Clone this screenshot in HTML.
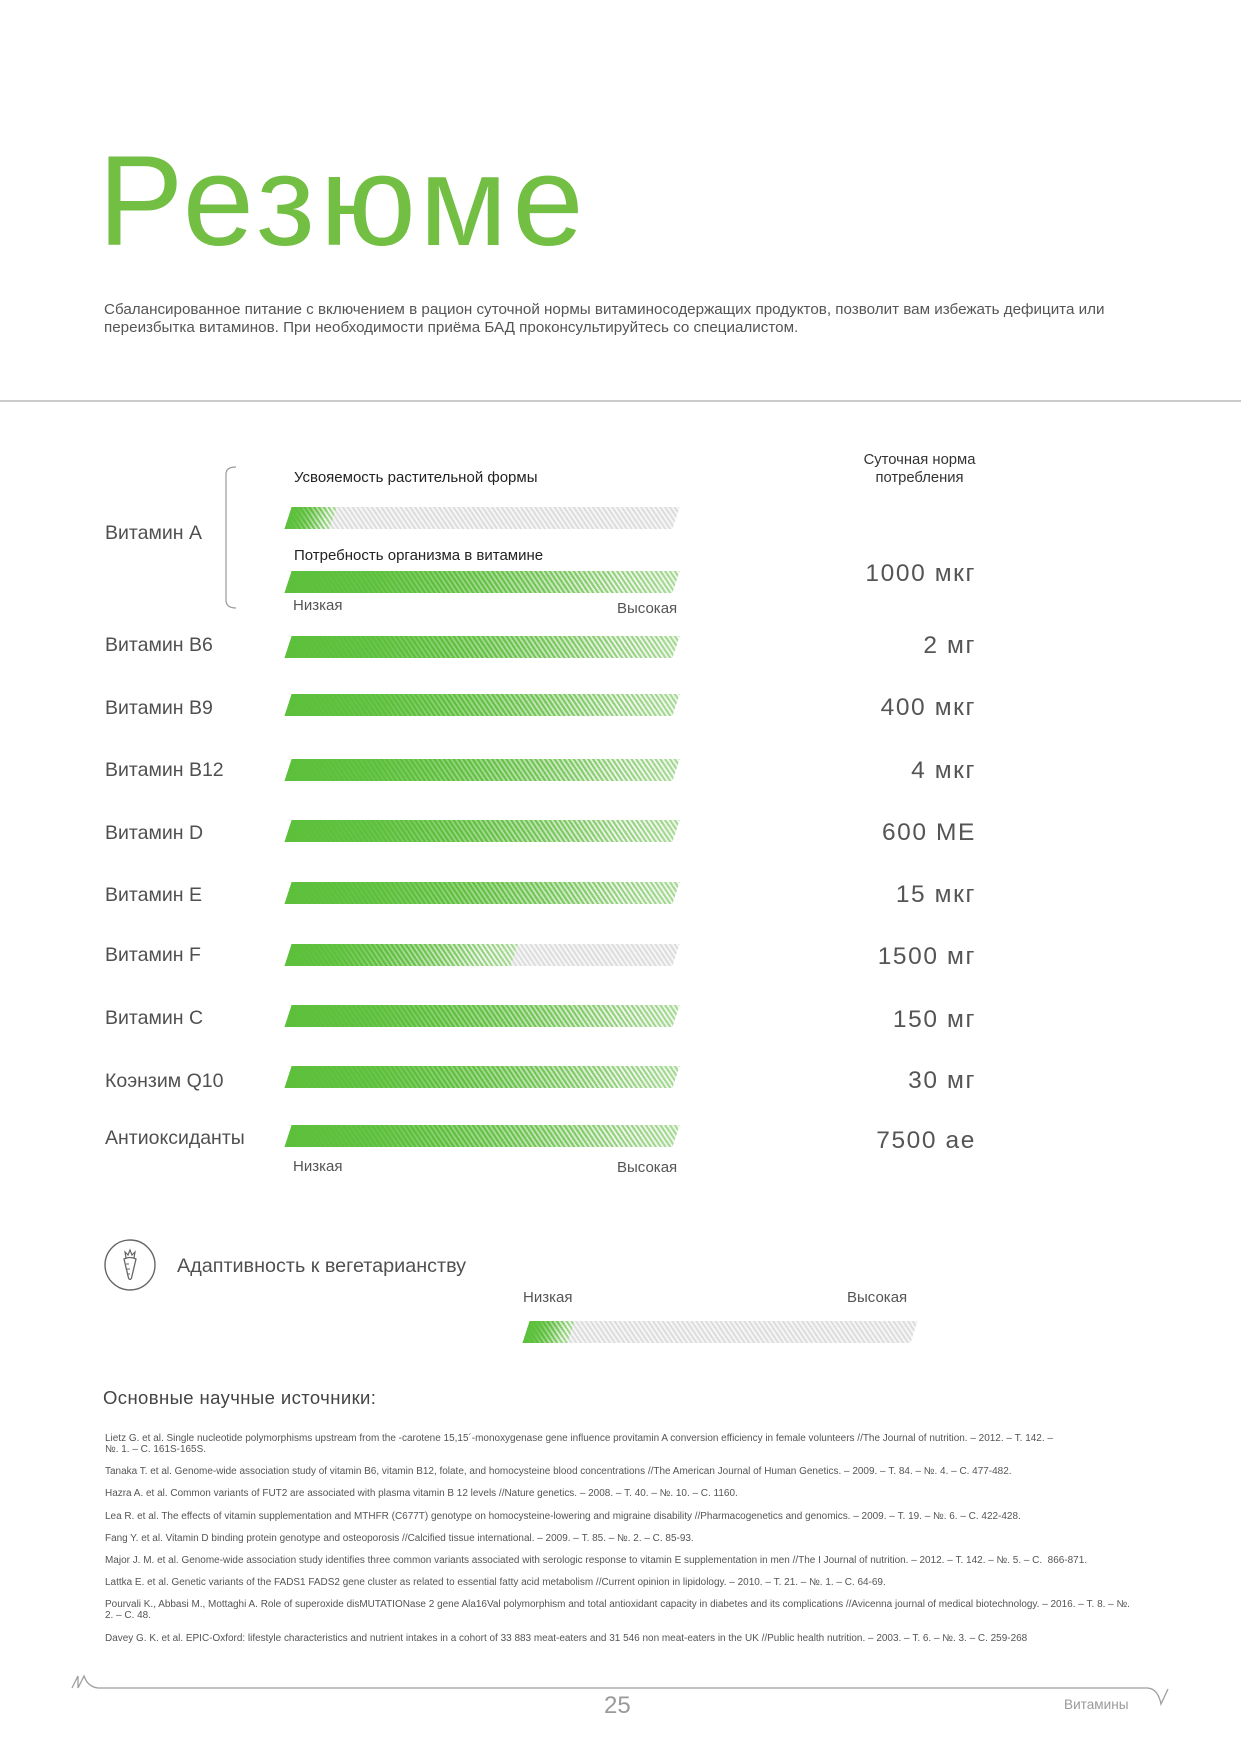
<!DOCTYPE html>
<html><head><meta charset="utf-8">
<style>
html,body{margin:0;padding:0;background:#fff}
body{width:1241px;height:1754px;position:relative;overflow:hidden;font-family:"Liberation Sans","Noto Sans CJK SC",sans-serif;color:#4d4d4d}
.a{position:absolute;white-space:nowrap}
.title{left:98px;top:138px;font-size:128px;line-height:128px;color:#72bf44;letter-spacing:5px}
.para{left:104px;top:301px;font-size:15.2px;line-height:18px;color:#555}
.hr{position:absolute;left:0;top:400px;width:1241px;height:2px;background:#cacaca}
.lab{left:105px;font-size:19.5px;line-height:24px;color:#505050}
.val{right:265px;font-size:24.5px;line-height:28px;color:#555;letter-spacing:1.6px;text-align:right}
.sm{font-size:15px;line-height:18px;color:#555}
.bar{position:absolute;left:288px;width:388px;height:22px;transform:skewX(-18deg);background:repeating-linear-gradient(45deg,#dcdcdc 0 1.6px,#f5f5f5 1.6px 3.4px);overflow:hidden}
.fill{position:absolute;left:0;top:0;bottom:0;background:linear-gradient(to right,#5cc03b 0%,rgba(92,192,59,.9) 22%,rgba(92,192,59,0) 85%),linear-gradient(to right,rgba(255,255,255,0) 40%,rgba(255,255,255,.45) 100%),repeating-linear-gradient(45deg,#62bb44 0 1.8px,#e4f2dc 1.8px 3.4px)}
.ref{left:105px;font-size:9.98px;line-height:11px;color:#555}
</style></head><body>

<div class="a title">Резюме</div>

<div class="a para">Сбалансированное питание с включением в рацион суточной нормы витаминосодержащих продуктов, позволит вам избежать дефицита или<br>переизбытка витаминов. При необходимости приёма БАД проконсультируйтесь со специалистом.</div>

<div class="hr"></div>

<!-- bracket -->
<svg class="a" style="left:220px;top:462px" width="24" height="152" viewBox="0 0 24 152">
<path d="M16 5 Q6 5 6 12 L6 138 Q6 146 16 146" fill="none" stroke="#9a9a9a" stroke-width="1.2"/>
</svg>

<div class="a" style="left:842px;top:451px;width:155px;text-align:center;font-size:14.8px;line-height:18px;color:#333">Суточная норма<br>потребления</div>

<div class="a sm" style="left:294px;top:469px;color:#222">Усвояемость растительной формы</div>
<div class="a sm" style="left:294px;top:547px;color:#222">Потребность организма в витамине</div>

<div class="bar" style="top:507px"><div class="fill" style="width:45px"></div></div>
<div class="bar" style="top:571px"><div class="fill" style="width:100%"></div></div>
<div class="a sm" style="left:293px;top:597px">Низкая</div>
<div class="a sm" style="left:617px;top:600px">Высокая</div>

<div class="a lab" style="top:521px">Витамин А</div>
<div class="a lab" style="top:633px">Витамин В6</div>
<div class="a lab" style="top:696px">Витамин В9</div>
<div class="a lab" style="top:758px">Витамин В12</div>
<div class="a lab" style="top:821px">Витамин D</div>
<div class="a lab" style="top:883px">Витамин Е</div>
<div class="a lab" style="top:943px">Витамин F</div>
<div class="a lab" style="top:1006px">Витамин С</div>
<div class="a lab" style="top:1069px">Коэнзим Q10</div>
<div class="a lab" style="top:1126px">Антиоксиданты</div>

<div class="bar" style="top:636px"><div class="fill" style="width:100%"></div></div>
<div class="bar" style="top:694px"><div class="fill" style="width:100%"></div></div>
<div class="bar" style="top:759px"><div class="fill" style="width:100%"></div></div>
<div class="bar" style="top:820px"><div class="fill" style="width:100%"></div></div>
<div class="bar" style="top:882px"><div class="fill" style="width:100%"></div></div>
<div class="bar" style="top:944px"><div class="fill" style="width:226px"></div></div>
<div class="bar" style="top:1005px"><div class="fill" style="width:100%"></div></div>
<div class="bar" style="top:1066px"><div class="fill" style="width:100%"></div></div>
<div class="bar" style="top:1125px"><div class="fill" style="width:100%"></div></div>
<div class="a sm" style="left:293px;top:1158px">Низкая</div>
<div class="a sm" style="left:617px;top:1159px">Высокая</div>

<div class="a val" style="top:560px">1000 мкг</div>
<div class="a val" style="top:632px">2 мг</div>
<div class="a val" style="top:694px">400 мкг</div>
<div class="a val" style="top:757px">4 мкг</div>
<div class="a val" style="top:819px">600 МЕ</div>
<div class="a val" style="top:881px">15 мкг</div>
<div class="a val" style="top:943px">1500 мг</div>
<div class="a val" style="top:1006px">150 мг</div>
<div class="a val" style="top:1067px">30 мг</div>
<div class="a val" style="top:1127px">7500 ае</div>

<!-- vegetarian -->
<svg class="a" style="left:103px;top:1238px" width="56" height="56" viewBox="0 0 56 56">
<circle cx="27" cy="27" r="25" fill="none" stroke="#666" stroke-width="1.4"/>
<path d="M21 21 Q27 18 33 21 L28.5 40 Q27 43 25.5 40 Z" fill="none" stroke="#666" stroke-width="1.3"/>
<path d="M23 20 L22 14 L25 17 L27 12 L29 17 L32 14 L31 20" fill="none" stroke="#666" stroke-width="1.2"/>
<path d="M23 26 L26 26 M24 31 L27 31 M25 36 L27 36" stroke="#666" stroke-width="1.1"/>
</svg>
<div class="a" style="left:177px;top:1254px;font-size:19.8px;line-height:24px;color:#505050">Адаптивность к вегетарианству</div>
<div class="a sm" style="left:523px;top:1289px">Низкая</div>
<div class="a sm" style="left:847px;top:1289px">Высокая</div>
<div class="bar" style="left:526px;top:1321px"><div class="fill" style="width:45px"></div></div>

<div class="a" style="left:103px;top:1386px;font-size:18.5px;line-height:24px;color:#444;letter-spacing:0.4px">Основные научные источники:</div>

<div class="a ref" style="top:1433px">Lietz G. et al. Single nucleotide polymorphisms upstream from the -carotene 15,15´-monoxygenase gene influence provitamin A conversion efficiency in female volunteers //The Journal of nutrition. – 2012. – Т. 142. –</div>
<div class="a ref" style="top:1444px">№. 1. – С. 161S-165S.</div>
<div class="a ref" style="top:1466px">Tanaka T. et al. Genome-wide association study of vitamin B6, vitamin B12, folate, and homocysteine blood concentrations //The American Journal of Human Genetics. – 2009. – Т. 84. – №. 4. – С. 477-482.</div>
<div class="a ref" style="top:1488px">Hazra A. et al. Common variants of FUT2 are associated with plasma vitamin B 12 levels //Nature genetics. – 2008. – Т. 40. – №. 10. – С. 1160.</div>
<div class="a ref" style="top:1511px">Lea R. et al. The effects of vitamin supplementation and MTHFR (C677T) genotype on homocysteine-lowering and migraine disability //Pharmacogenetics and genomics. – 2009. – Т. 19. – №. 6. – С. 422-428.</div>
<div class="a ref" style="top:1533px">Fang Y. et al. Vitamin D binding protein genotype and osteoporosis //Calcified tissue international. – 2009. – Т. 85. – №. 2. – С. 85-93.</div>
<div class="a ref" style="top:1555px">Major J. M. et al. Genome-wide association study identifies three common variants associated with serologic response to vitamin E supplementation in men //The I Journal of nutrition. – 2012. – Т. 142. – №. 5. – С.&nbsp; 866-871.</div>
<div class="a ref" style="top:1577px">Lattka E. et al. Genetic variants of the FADS1 FADS2 gene cluster as related to essential fatty acid metabolism //Current opinion in lipidology. – 2010. – Т. 21. – №. 1. – С. 64-69.</div>
<div class="a ref" style="top:1599px">Pourvali K., Abbasi M., Mottaghi A. Role of superoxide disMUTATIONase 2 gene Ala16Val polymorphism and total antioxidant capacity in diabetes and its complications //Avicenna journal of medical biotechnology. – 2016. – Т. 8. – №.</div>
<div class="a ref" style="top:1610px">2. – С. 48.</div>
<div class="a ref" style="top:1633px">Davey G. K. et al. EPIC-Oxford: lifestyle characteristics and nutrient intakes in a cohort of 33 883 meat-eaters and 31 546 non meat-eaters in the UK //Public health nutrition. – 2003. – Т. 6. – №. 3. – С. 259-268</div>

<!-- footer -->
<svg class="a" style="left:0;top:1668px" width="1241" height="45" viewBox="0 1668 1241 45">
<path d="M72 1688 L78 1676 L78 1688 L84 1676 Q88 1687 98 1688 L1148 1688 Q1158 1689 1161 1704 L1168 1689" fill="none" stroke="#9e9e9e" stroke-width="1.3"/>
</svg>
<div class="a" style="left:604px;top:1692px;font-size:24px;line-height:28px;color:#9a9a9a">25</div>
<div class="a" style="left:1064px;top:1697px;font-size:13.6px;line-height:16px;color:#9a9a9a">Витамины</div>

</body></html>
